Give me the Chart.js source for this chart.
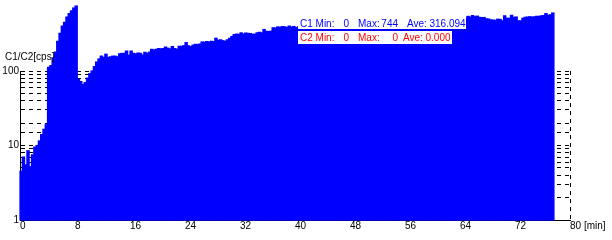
<!DOCTYPE html>
<html lang="en">
  <head>
    <meta charset="UTF-8" />
    <title>C1/C2 count rate</title>
    <style>
      body { margin: 0; background: #fff; }
      .chart-box { width: 612px; height: 240px; }
    </style>
  </head>
  <body>
    <div class="chart-box">
      <canvas id="rateChart"></canvas>
    </div>

    <script src="https://cdn.jsdelivr.net/npm/chart.js"></script>
    <script>
      // one bin every 20 s (1/3 min)
      const binMinutes = 1 / 3;

      // C1 counts per bin [cps]
      const c1Counts = [
        4.5, 7, 5.5, 8.5, 5.2, 7.5, 9.5, 10, 11.5, 14, 16.5, 19,
        112, 118, 150, 180, 250, 320, 400, 450, 530, 590, 640, 700, 744,
        78, 72, 66, 70, 80, 92, 100, 115, 132, 145,
        158, 152, 168, 152, 155, 158, 158, 155, 170, 172,
        172, 185, 163, 185, 172, 170, 174, 172, 163, 178,
        172, 180, 195, 192, 195, 200, 198, 200, 210, 202,
        198, 212, 200, 196, 215, 214, 218, 240, 218, 212,
        222, 228, 226, 230, 245, 243, 248, 245, 250, 248,
        275, 258, 262, 255, 250, 262, 275, 290, 308, 312,
        310, 325, 312, 322, 320, 318, 310, 312, 325, 330,
        325, 360, 340, 338, 342, 380, 378, 390, 385, 395,
        392, 385, 400, 388, 395, 380, 390,
        392, 398, 388, 402, 395, 405, 398, 410, 402,
        408, 415, 405, 418, 412, 420, 415, 425, 418, 422,
        428, 420, 432, 426, 435, 430, 438, 432, 440, 436,
        445, 438, 448, 442, 450, 446, 455, 448, 458, 452,
        460, 455, 465, 458, 468, 462, 470, 465, 475, 468,
        478, 472, 480, 475, 485, 478, 488, 482, 490, 485,
        492, 488, 498, 490, 500, 495, 505, 498, 508, 502,
        510, 505, 512, 508,
        540, 530, 555, 535, 545, 525, 520, 522, 500, 498,
        485, 482, 478, 495, 492, 470, 550, 510, 508, 560,
        525, 530, 470, 472, 510, 525, 530, 535, 528, 532,
        542, 540, 548, 555, 590, 560, 565, 600
      ];

      const xTicks = [0, 8, 16, 24, 32, 40, 48, 56, 64, 72, 80];
      const xTickLabels = ["0", "8", "16", "24", "32", "40", "48", "56", "64", "72", "80 [min]"];
      const yLabelled = [1, 10, 100];
      const yTitle = "C1/C2[cps]";

      const seriesNames = ["C1", "C2"];
      const seriesMin = [0, 0];
      const seriesMax = [744, 0];
      const seriesAve = ["316.094", "0.000"];
      const seriesColors = ["#0000ff", "#ff0000"];

      Chart.defaults.font.family = "'Liberation Sans', Arial, sans-serif";
      Chart.defaults.font.size = 10;
      Chart.defaults.color = "#000";

      const points = c1Counts.map((v, i) => ({ x: (i + 0.5) * binMinutes, y: v }));

      // stats boxes + y title
      const overlay = {
        id: "overlay",
        afterDraw(chart) {
          const ctx = chart.ctx;
          ctx.save();
          ctx.font = "10px 'Liberation Sans', Arial, sans-serif";
          ctx.textBaseline = "alphabetic";
          ctx.fillStyle = "#000";
          ctx.textAlign = "left";
          ctx.fillText(yTitle, 5, 60);

          const boxes = [
            { y: 16, w: 168, base: 27, ave: 407 },
            { y: 31, w: 154, base: 41, ave: 403 }
          ];
          seriesNames.forEach((name, k) => {
            const b = boxes[k];
            ctx.fillStyle = "#fff";
            ctx.fillRect(298, b.y, b.w, 13);
            ctx.fillStyle = seriesColors[k];
            ctx.textAlign = "left";
            ctx.fillText(name + " Min:", 300, b.base);
            ctx.fillText("Max:", 358, b.base);
            ctx.fillText("Ave:", b.ave, b.base);
            ctx.fillText(seriesAve[k], b.ave + 22.5, b.base);
            ctx.textAlign = "right";
            ctx.fillText(String(seriesMin[k]), 349, b.base);
            ctx.fillText(String(seriesMax[k]), 398, b.base);
          });
          ctx.restore();
        }
      };

      new Chart(document.getElementById("rateChart"), {
        type: "bar",
        data: {
          datasets: [
            {
              label: seriesNames[0],
              data: points,
              backgroundColor: seriesColors[0],
              borderWidth: 0,
              inflateAmount: 0.6,
              barPercentage: 1,
              categoryPercentage: 1,
              clip: false
            }
          ]
        },
        options: {
          responsive: true,
          maintainAspectRatio: false,
          animation: false,
          layout: { padding: { top: 71, right: 42, left: 0, bottom: 0 } },
          plugins: { legend: { display: false }, tooltip: { enabled: false } },
          scales: {
            x: {
              type: "linear",
              min: 0,
              max: 80,
              offset: false,
              afterFit: (s) => { s.height = 20; },
              afterBuildTicks: (s) => { s.ticks = xTicks.map((v) => ({ value: v })); },
              ticks: {
                align: "start",
                padding: 0,
                maxRotation: 0,
                autoSkip: false,
                callback: (v) => xTickLabels[xTicks.indexOf(v)]
              },
              grid: {
                offset: false,
                drawTicks: false,
                color: (c) => (c.tick && c.tick.value === 80 ? "#000" : "rgba(0,0,0,0)")
              },
              border: { color: "#000", width: 1, dash: [4, 4] }
            },
            y: {
              type: "logarithmic",
              min: 1,
              max: 100,
              afterFit: (s) => { s.width = 20; },
              ticks: {
                padding: 1,
                autoSkip: false,
                callback: (v) => (yLabelled.includes(v) ? String(v) : "")
              },
              grid: {
                drawTicks: false,
                color: (c) => (c.tick && c.tick.value === 1 ? "rgba(0,0,0,0)" : "#000")
              },
              border: { color: "#000", width: 1, dash: [4, 4] }
            }
          }
        },
        plugins: [overlay]
      });
    </script>
  </body>
</html>
